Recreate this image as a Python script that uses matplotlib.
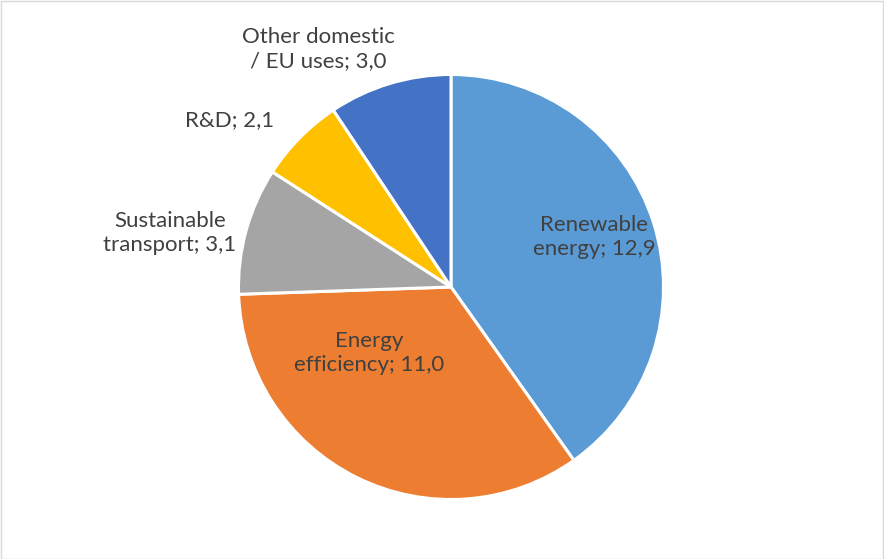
import matplotlib
matplotlib.use("Agg")
import matplotlib.pyplot as plt
from matplotlib.patches import Rectangle

# data
categories = ["Renewable\nenergy", "Energy\nefficiency", "Sustainable\ntransport", "R&D", "Other domestic\n/ EU uses"]
values = [12.9, 11.0, 3.1, 2.1, 3.0]
colors = ["#5B9BD5", "#ED7D31", "#A5A5A5", "#FFC000", "#4472C4"]

# label anchor points in pixel space (x, y from top)
label_pos = [(594, 237), (369, 353), (170, 233), (230, 120), (318, 49)]

plt.rcParams['font.family'] = ['Lato', 'DejaVu Sans']

W, H = 884, 559
fig = plt.figure(figsize=(W / 100, H / 100), dpi=100)
ax = fig.add_axes([0, 0, 1, 1])

cx, cy, r = 451, H - 287, 212.5
ax.pie(values, colors=colors, startangle=90, counterclock=False,
       center=(cx, cy), radius=r, frame=True,
       wedgeprops=dict(edgecolor="white", linewidth=2.2))
ax.set_xlim(0, W)
ax.set_ylim(0, H)
ax.set_aspect("auto")
ax.axis("off")

for name, v, (lx, ly) in zip(categories, values, label_pos):
    txt = "{}; {}".format(name, ("%.1f" % v).replace(".", ","))
    ax.text(lx, H - ly, txt, ha="center", va="center", fontsize=16,
            color="#404040", linespacing=1.3)

# light chart-area border
fig.patches.append(Rectangle((0.5 / W, 0.5 / H), 1 - 1.5 / W, 1 - 1.5 / H,
                             transform=fig.transFigure, fill=False,
                             edgecolor="#D9D9D9", linewidth=1))

fig.savefig("out.png", dpi=100)
